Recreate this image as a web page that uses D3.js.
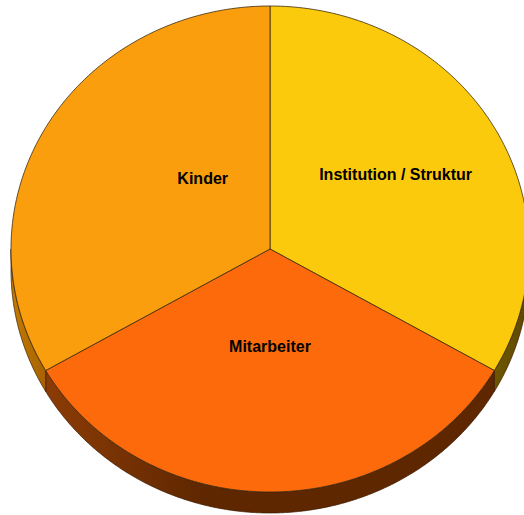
<!DOCTYPE html>
<html lang="de">
<head>
<meta charset="UTF-8">
<title>Kreisdiagramm</title>
<script src="https://d3js.org/d3.v7.min.js"></script>
<style>
    body { margin: 0; background: #fff; overflow: hidden; }
    svg { display: block; }
    .label { font-family: "Liberation Sans", Arial, sans-serif; font-weight: bold; font-size: 16px; fill: #000; }
</style>
</head>
<body>
<svg id="chart" width="524" height="515"></svg>
<script>
// data
const categories = ["Institution / Struktur", "Mitarbeiter", "Kinder"];
const values = [33.3, 33.3, 33.3];
const topColors = ["#fcca0c", "#fc6a0c", "#fa9e0e"];
const sideColors = [["#6e5600", "#5e4800"], ["#8c3c06", "#5f2700"], ["#c47c00", "#a66200"]];

// layout
const cx = 270, cy = 249, rx = 259, ry = 243, depth = 21;
// label placement as fraction of radius (x, y) per slice
const labelFrac = [[0.56, 0.61], [0.4, 0.4], [0.3, 0.58]];

const svg = d3.select("#chart");
const defs = svg.append("defs");

const pie = d3.pie().sort(null).value(d => d.value);
const arcs = pie(categories.map((c, i) => ({ name: c, value: values[i], i })));

const pt = (a, dy = 0) => [cx + rx * Math.sin(a), cy - ry * Math.cos(a) + dy];

function arcPoints(a0, a1, dy) {
    const n = Math.max(2, Math.ceil(Math.abs(a1 - a0) / 0.01));
    return d3.range(n + 1).map(k => pt(a0 + (a1 - a0) * k / n, dy));
}

// side walls (front half only: pi/2 .. 3pi/2)
arcs.forEach(d => {
    const a0 = Math.max(d.startAngle, Math.PI / 2);
    const a1 = Math.min(d.endAngle, Math.PI * 1.5);
    if (a1 <= a0) return;
    const gid = "side" + d.data.i;
    const g = defs.append("linearGradient").attr("id", gid)
        .attr("gradientUnits", "userSpaceOnUse")
        .attr("x1", pt(a1)[0]).attr("x2", pt(a0)[0]).attr("y1", 0).attr("y2", 0);
    if (d.data.i === 1) {
        g.append("stop").attr("offset", 0).attr("stop-color", sideColors[1][0]);
        g.append("stop").attr("offset", 0.35).attr("stop-color", sideColors[1][1]);
        g.append("stop").attr("offset", 1).attr("stop-color", sideColors[1][1]);
    } else {
        g.append("stop").attr("offset", 0).attr("stop-color", sideColors[d.data.i][0]);
        g.append("stop").attr("offset", 1).attr("stop-color", sideColors[d.data.i][1]);
    }
    const pts = arcPoints(a0, a1, 0).concat(arcPoints(a1, a0, depth));
    svg.append("path")
        .attr("d", d3.line()(pts) + "Z")
        .attr("fill", `url(#${gid})`)
        .attr("stroke", "#3a1a00")
        .attr("stroke-width", 0.7);
});

// top faces
arcs.forEach(d => {
    const pts = [[cx, cy]].concat(arcPoints(d.startAngle, d.endAngle, 0));
    svg.append("path")
        .attr("d", d3.line()(pts) + "Z")
        .attr("fill", topColors[d.data.i])
        .attr("stroke", "#3a2a10")
        .attr("stroke-width", 0.8)
        .attr("stroke-linejoin", "round");
});

// labels
arcs.forEach(d => {
    const mid = (d.startAngle + d.endAngle) / 2;
    const f = labelFrac[d.data.i];
    const x = cx + rx * f[0] * Math.sin(mid);
    const y = cy - ry * f[1] * Math.cos(mid);
    svg.append("text")
        .attr("class", "label")
        .attr("x", x).attr("y", y)
        .attr("text-anchor", "middle")
        .attr("dominant-baseline", "central")
        .text(d.data.name);
});
</script>
</body>
</html>
